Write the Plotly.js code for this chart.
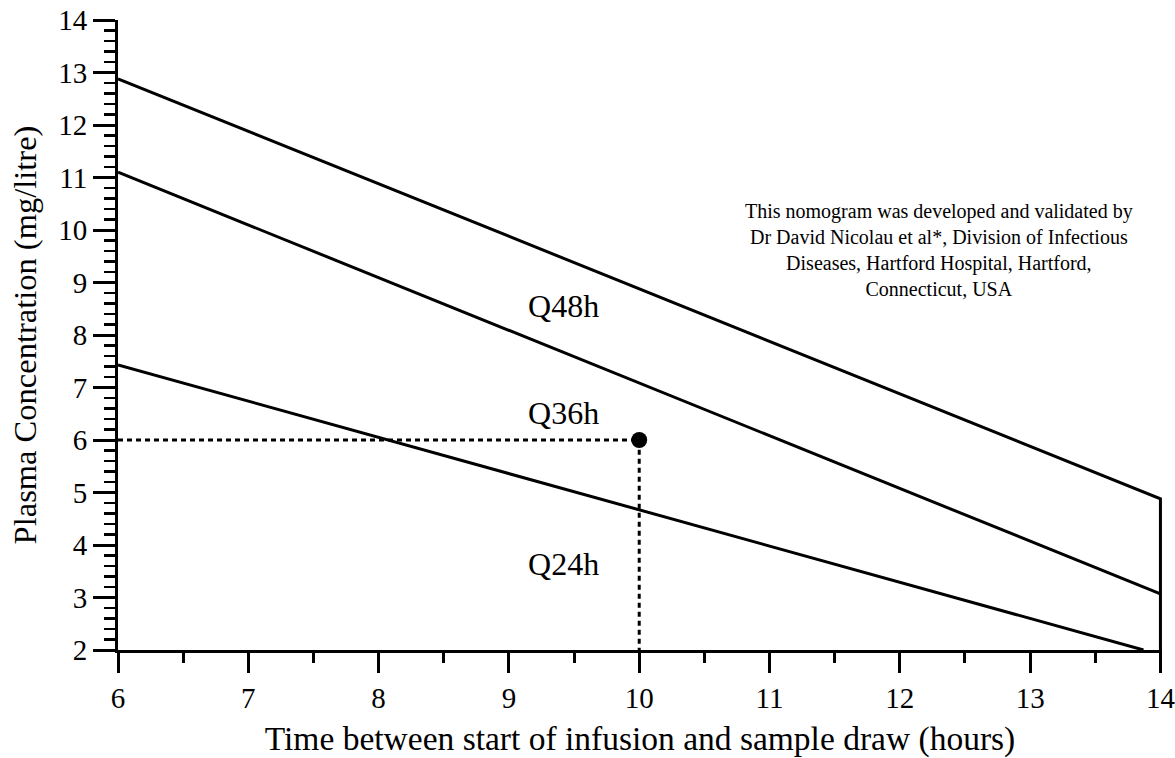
<!DOCTYPE html>
<html>
<head>
<meta charset="utf-8">
<script src="https://cdn.plot.ly/plotly-3.0.1.min.js"></script>
<style>
  html, body { margin: 0; padding: 0; background: #ffffff; }
  #chart { width: 1175px; height: 758px; }
</style>
</head>
<body>
<div id="chart"></div>
<script>
// ---- Data ----
// Upper boundary (Q48h / beyond), including the closing segment at 14 h
const upperX = [6, 14, 14];
const upperY = [12.88, 4.88, 2.0];
// Boundary between Q36h and Q48h
const middleX = [6, 14];
const middleY = [11.1, 3.07];
// Boundary between Q24h and Q36h
const lowerX = [6, 13.87];
const lowerY = [7.43, 2.0];
// Example sample point and its guide lines
const sampleX = [10];
const sampleY = [6];
const guideX = [6, 10, 10];
const guideY = [6, 6, 2];
// Zone labels
const zoneLabels = ["Q48h", "Q36h", "Q24h"];
const zoneLabelX = [9.42, 9.42, 9.42];
const zoneLabelY = [8.5, 6.45, 3.58];
// Axis ticks
const xTicks = [6, 7, 8, 9, 10, 11, 12, 13, 14];
const yTicks = [2, 3, 4, 5, 6, 7, 8, 9, 10, 11, 12, 13, 14];
const noteText = "This nomogram was developed and validated by<br>Dr David Nicolau et al*, Division of Infectious<br>Diseases, Hartford Hospital, Hartford,<br>Connecticut, USA";
const noteX = 12.3;
const noteY = 9.62;

const FONT = "Liberation Serif, Times New Roman, serif";
const solid = {color: "#000000", width: 3};

const traces = [
  {x: upperX, y: upperY, mode: "lines", line: solid, name: "Upper", showlegend: false, hoverinfo: "x+y"},
  {x: middleX, y: middleY, mode: "lines", line: solid, name: "Middle", showlegend: false, hoverinfo: "x+y"},
  {x: lowerX, y: lowerY, mode: "lines", line: solid, name: "Lower", showlegend: false, hoverinfo: "x+y"},
  {x: guideX, y: guideY, mode: "lines", line: {color: "#000000", width: 3, dash: "5px,4px"}, name: "Guide", showlegend: false, hoverinfo: "skip"},
  {x: sampleX, y: sampleY, mode: "markers", marker: {color: "#000000", size: 16}, name: "Sample", showlegend: false, cliponaxis: false},
  {x: zoneLabelX, y: zoneLabelY, mode: "text", text: zoneLabels, textposition: "middle center",
   textfont: {family: FONT, size: 32, color: "#000000"}, showlegend: false, hoverinfo: "skip", cliponaxis: false}
];

const layout = {
  width: 1175,
  height: 758,
  margin: {l: 118, r: 13, t: 20, b: 108},
  paper_bgcolor: "#ffffff",
  plot_bgcolor: "#ffffff",
  showlegend: false,
  font: {family: FONT, color: "#000000"},
  xaxis: {
    range: [6, 14.012],
    tickvals: xTicks,
    ticktext: xTicks.map(String),
    ticks: "outside",
    ticklen: 20,
    tickwidth: 3,
    tickcolor: "#000000",
    ticklabeloverflow: "allow",
    minor: {dtick: 0.5, tick0: 6, ticks: "outside", ticklen: 10, tickwidth: 3, tickcolor: "#000000", showgrid: false},
    showline: true,
    linewidth: 3,
    linecolor: "#000000",
    showgrid: false,
    zeroline: false,
    tickfont: {family: FONT, size: 29, color: "#000000"},
    title: {text: "Time between start of infusion and sample draw (hours)", font: {family: FONT, size: 33.5, color: "#000000"}, standoff: 22}
  },
  yaxis: {
    range: [2, 14],
    tickvals: yTicks,
    ticktext: yTicks.map(String),
    ticks: "outside",
    ticklen: 22,
    tickwidth: 3,
    tickcolor: "#000000",
    ticklabeloverflow: "allow",
    minor: {dtick: 0.2, tick0: 2, ticks: "outside", ticklen: 11, tickwidth: 2.5, tickcolor: "#000000", showgrid: false},
    showline: true,
    linewidth: 3,
    linecolor: "#000000",
    showgrid: false,
    zeroline: false,
    tickfont: {family: FONT, size: 29, color: "#000000"},
    title: {text: "Plasma Concentration (mg/litre)", font: {family: FONT, size: 32.5, color: "#000000"}, standoff: 12}
  },
  annotations: [
    {x: noteX, y: noteY, xref: "x", yref: "y", text: noteText, showarrow: false, align: "center",
     font: {family: FONT, size: 20, color: "#000000"}}
  ]
};

Plotly.newPlot("chart", traces, layout, {displayModeBar: false, staticPlot: true});
</script>
</body>
</html>
